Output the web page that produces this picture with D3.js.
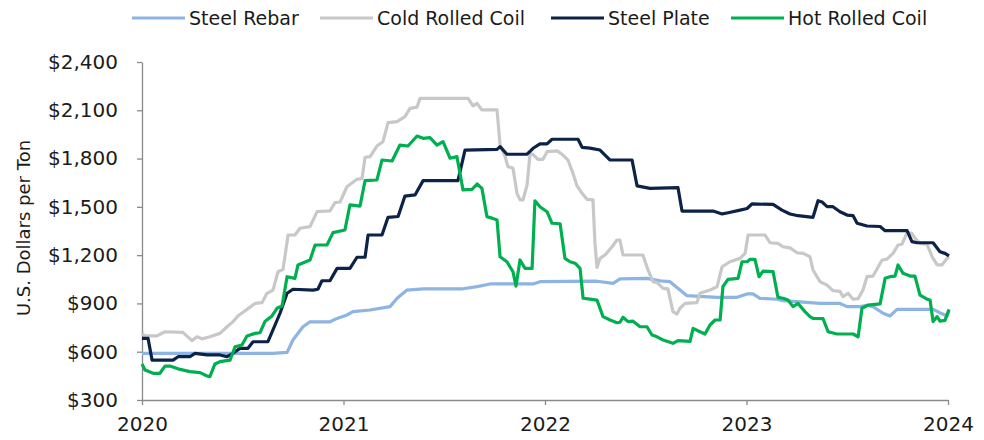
<!DOCTYPE html>
<html><head><meta charset="utf-8">
<script src="https://cdn.jsdelivr.net/npm/d3@7"></script>
<style>
body{margin:0;background:#fff;}
svg{display:block;font-family:"DejaVu Sans",sans-serif;}
</style></head>
<body><svg id="chart" width="984" height="440"></svg>
<script>
// x = time in decimal years, y = U.S. dollars per ton
const seriesNames = ["Steel Rebar", "Cold Rolled Coil", "Steel Plate", "Hot Rolled Coil"];
const yearTicks = [2020, 2021, 2022, 2023, 2024];
const priceTicks = [300, 600, 900, 1200, 1500, 1800, 2100, 2400];

const steelRebar = [
[2020.000,590],[2020.650,590],[2020.720,596],[2020.749,673],[2020.799,755],[2020.834,786],[2020.933,786],
[2020.968,807],[2021.017,828],[2021.047,849],[2021.132,859],[2021.231,880],[2021.266,932],[2021.315,983],
[2021.395,991],[2021.593,991],[2021.663,1004],[2021.727,1021],[2021.941,1021],[2021.975,1035],[2022.258,1038],
[2022.338,1025],[2022.372,1052],[2022.506,1056],[2022.571,1040],[2022.620,1035],[2022.670,983],[2022.705,948],
[2022.854,938],[2022.953,938],[2023.003,959],[2023.032,959],[2023.067,932],[2023.151,926],[2023.181,917],
[2023.365,900],[2023.464,900],[2023.499,880],[2023.563,880],[2023.598,889],[2023.628,880],[2023.678,839],
[2023.712,822],[2023.747,863],[2023.926,863],[2023.960,842],[2023.995,822],[2024.005,855]
];

const coldRolledCoil = [
[2020.000,714],[2020.015,698],[2020.074,698],[2020.114,724],[2020.203,720],[2020.248,669],[2020.273,693],
[2020.298,680],[2020.337,693],[2020.387,714],[2020.422,755],[2020.452,787],[2020.476,822],[2020.521,863],
[2020.561,900],[2020.596,905],[2020.620,963],[2020.650,983],[2020.675,1097],[2020.700,1112],[2020.725,1325],
[2020.759,1325],[2020.784,1367],[2020.834,1377],[2020.869,1470],[2020.933,1475],[2020.958,1526],[2020.983,1530],
[2021.017,1625],[2021.067,1671],[2021.092,1676],[2021.107,1808],[2021.132,1812],[2021.166,1878],[2021.196,1905],
[2021.221,2023],[2021.266,2030],[2021.305,2060],[2021.330,2112],[2021.365,2120],[2021.380,2174],[2021.618,2174],
[2021.643,2127],[2021.663,2143],[2021.687,2102],[2021.762,2102],[2021.777,1884],[2021.802,1812],[2021.816,1750],
[2021.841,1740],[2021.861,1584],[2021.876,1543],[2021.891,1543],[2021.911,1636],[2021.926,1833],[2021.941,1825],
[2021.965,1795],[2021.990,1795],[2022.010,1843],[2022.060,1848],[2022.089,1822],[2022.114,1791],[2022.139,1708],
[2022.159,1630],[2022.184,1584],[2022.208,1547],[2022.238,1543],[2022.248,1273],[2022.258,1124],[2022.273,1180],
[2022.298,1201],[2022.333,1252],[2022.357,1294],[2022.372,1294],[2022.387,1201],[2022.486,1201],[2022.511,1108],
[2022.536,1035],[2022.556,1029],[2022.586,994],[2022.610,990],[2022.635,849],[2022.655,834],[2022.670,870],
[2022.695,900],[2022.754,905],[2022.769,963],[2022.819,983],[2022.854,1004],[2022.879,1128],[2022.918,1159],
[2022.968,1180],[2022.993,1211],[2023.008,1325],[2023.092,1325],[2023.117,1277],[2023.156,1273],[2023.181,1252],
[2023.216,1245],[2023.251,1215],[2023.281,1211],[2023.315,1190],[2023.330,1108],[2023.365,1035],[2023.400,1014],
[2023.429,979],[2023.464,975],[2023.479,942],[2023.504,963],[2023.529,926],[2023.554,930],[2023.578,983],
[2023.598,1066],[2023.628,1070],[2023.673,1170],[2023.697,1175],[2023.727,1211],[2023.752,1263],[2023.772,1268],
[2023.797,1340],[2023.821,1335],[2023.836,1305],[2023.861,1273],[2023.896,1268],[2023.921,1190],[2023.946,1139],
[2023.970,1139],[2023.995,1180],[2024.005,1190]
];

const steelPlate = [
[2020.000,683],[2020.030,683],[2020.050,548],[2020.154,548],[2020.179,569],[2020.238,569],[2020.263,590],
[2020.323,580],[2020.387,580],[2020.422,569],[2020.452,590],[2020.486,621],[2020.526,621],[2020.551,662],
[2020.625,662],[2020.650,735],[2020.685,839],[2020.720,963],[2020.749,988],[2020.849,983],[2020.873,988],
[2020.893,1041],[2020.933,1041],[2020.968,1118],[2021.032,1118],[2021.067,1187],[2021.107,1187],[2021.122,1325],
[2021.191,1325],[2021.221,1435],[2021.271,1440],[2021.305,1567],[2021.355,1574],[2021.395,1663],[2021.568,1663],
[2021.603,1853],[2021.762,1857],[2021.777,1874],[2021.811,1827],[2021.911,1827],[2021.941,1864],[2021.975,1891],
[2022.010,1891],[2022.035,1920],[2022.164,1920],[2022.184,1870],[2022.223,1865],[2022.273,1853],[2022.323,1791],
[2022.432,1791],[2022.457,1630],[2022.521,1615],[2022.660,1619],[2022.680,1474],[2022.834,1474],[2022.879,1456],
[2022.903,1462],[2022.968,1480],[2023.003,1490],[2023.027,1518],[2023.132,1515],[2023.176,1480],[2023.216,1456],
[2023.256,1445],[2023.330,1435],[2023.355,1538],[2023.375,1530],[2023.400,1501],[2023.429,1501],[2023.464,1470],
[2023.499,1449],[2023.529,1445],[2023.549,1398],[2023.598,1381],[2023.663,1378],[2023.688,1352],[2023.797,1352],
[2023.821,1284],[2023.846,1277],[2023.926,1277],[2023.960,1221],[2023.985,1211],[2024.005,1195]
];

const hotRolledCoil = [
[2020.000,524],[2020.015,486],[2020.055,466],[2020.089,466],[2020.114,511],[2020.139,511],[2020.189,490],
[2020.238,476],[2020.288,470],[2020.323,449],[2020.337,445],[2020.362,524],[2020.387,538],[2020.437,548],
[2020.462,631],[2020.496,642],[2020.521,698],[2020.561,714],[2020.586,718],[2020.610,787],[2020.645,822],
[2020.670,870],[2020.695,884],[2020.720,1066],[2020.759,1056],[2020.774,1139],[2020.834,1170],[2020.859,1263],
[2020.918,1263],[2020.948,1340],[2021.007,1356],[2021.032,1512],[2021.082,1505],[2021.107,1663],[2021.166,1667],
[2021.191,1791],[2021.241,1785],[2021.280,1884],[2021.320,1878],[2021.365,1940],[2021.395,1926],[2021.429,1930],
[2021.464,1884],[2021.494,1905],[2021.529,1802],[2021.563,1812],[2021.593,1605],[2021.638,1609],[2021.663,1642],
[2021.687,1615],[2021.712,1439],[2021.737,1430],[2021.762,1418],[2021.777,1190],[2021.811,1159],[2021.841,1097],
[2021.856,1008],[2021.876,1170],[2021.901,1118],[2021.936,1118],[2021.950,1538],[2021.975,1501],[2022.010,1470],
[2022.035,1398],[2022.075,1395],[2022.099,1180],[2022.124,1159],[2022.149,1150],[2022.174,1118],[2022.189,932],
[2022.223,927],[2022.258,921],[2022.288,818],[2022.323,797],[2022.357,780],[2022.372,783],[2022.387,814],
[2022.412,787],[2022.437,790],[2022.472,755],[2022.506,755],[2022.531,704],[2022.546,698],[2022.586,673],
[2022.635,652],[2022.660,669],[2022.720,664],[2022.735,745],[2022.769,724],[2022.794,710],[2022.819,766],
[2022.844,797],[2022.869,797],[2022.883,1004],[2022.908,1050],[2022.958,1056],[2022.978,1159],[2023.003,1159],
[2023.018,1174],[2023.042,1174],[2023.062,1066],[2023.082,1101],[2023.132,1097],[2023.156,938],[2023.181,932],
[2023.206,921],[2023.231,880],[2023.256,900],[2023.290,849],[2023.315,818],[2023.330,807],[2023.380,805],
[2023.405,724],[2023.449,710],[2023.529,710],[2023.554,693],[2023.573,870],[2023.603,890],[2023.663,897],
[2023.688,1056],[2023.712,1066],[2023.737,1070],[2023.752,1139],[2023.777,1087],[2023.812,1070],[2023.836,1070],
[2023.861,952],[2023.896,926],[2023.911,921],[2023.926,787],[2023.946,818],[2023.960,790],[2023.985,795],
[2024.005,863]
];

const seriesColors = ["#8DB4E2", "#C8C8C8", "#0C2347", "#00B050"];
const seriesData = [steelRebar, coldRolledCoil, steelPlate, hotRolledCoil];

const svg = d3.select("#chart");
const margin = {left: 142, right: 36, top: 62, bottom: 40};
const W = 984, H = 440;
const x = d3.scaleLinear().domain([2020, 2024]).range([margin.left, W - margin.right]);
const y = d3.scaleLinear().domain([300, 2400]).range([H - margin.bottom, margin.top]);
const axisColor = "#8a8a8a";
const textColor = "#1b1b1b";

// Y axis
const yAxis = svg.append("g").attr("transform", `translate(${margin.left},0)`)
  .call(d3.axisLeft(y).tickValues(priceTicks).tickFormat(d3.format("$,")).tickSize(5).tickSizeOuter(0).tickPadding(19));
yAxis.selectAll("path,line").attr("stroke", axisColor).attr("stroke-width", 1.3);
yAxis.selectAll("text").attr("font-size", 20).attr("fill", textColor).attr("font-family", "DejaVu Sans");

// X axis
const xAxis = svg.append("g").attr("transform", `translate(0,${H - margin.bottom})`)
  .call(d3.axisBottom(x).tickValues(yearTicks).tickFormat(d3.format("d")).tickSize(5).tickSizeOuter(0).tickPadding(12));
xAxis.selectAll("path,line").attr("stroke", axisColor).attr("stroke-width", 1.3);
xAxis.selectAll("text").attr("font-size", 20).attr("fill", textColor).attr("font-family", "DejaVu Sans");

// Y title
svg.append("text").attr("transform", `translate(30,${(y(300)+y(2400))/2 - 3}) rotate(-90)`)
  .attr("text-anchor", "middle").attr("font-size", 18).attr("fill", textColor)
  .text("U.S. Dollars per Ton");

// Lines
const line = d3.line().x(d => x(d[0])).y(d => y(d[1]));
seriesData.forEach((data, i) => {
  svg.append("path").datum(data).attr("d", line).attr("fill", "none")
    .attr("stroke", seriesColors[i]).attr("stroke-width", 3.2)
    .attr("stroke-linejoin", "round").attr("stroke-linecap", "butt");
});

// Legend
const legendX = [132, 320, 551, 731];
const lg = svg.append("g");
seriesNames.forEach((name, i) => {
  const g = lg.append("g").attr("transform", `translate(${legendX[i]},18)`);
  g.append("line").attr("x1", 0).attr("x2", 53).attr("y1", 0).attr("y2", 0)
    .attr("stroke", seriesColors[i]).attr("stroke-width", 3.2);
  g.append("text").attr("x", 57).attr("y", 7).attr("font-size", 19).attr("fill", textColor).text(name);
});
</script></body></html>
